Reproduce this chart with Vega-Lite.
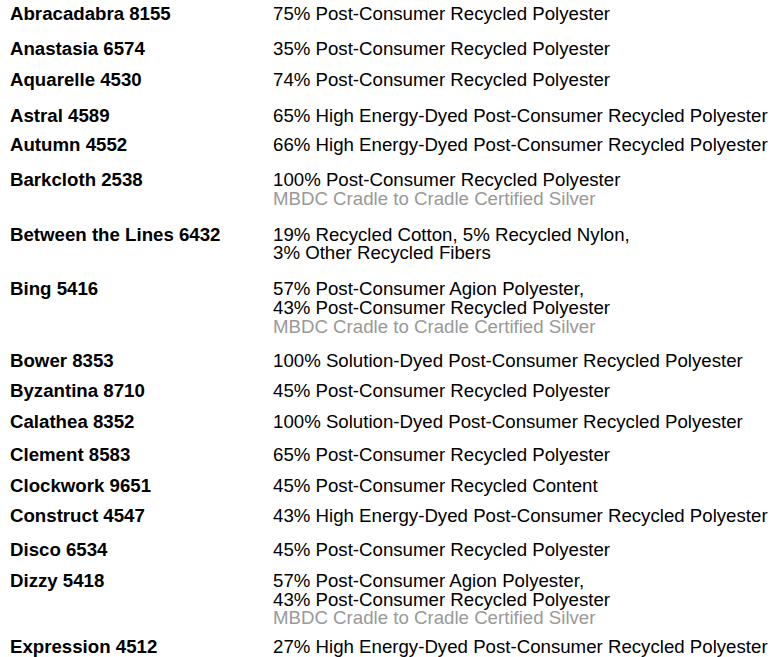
{
  "$schema": "https://vega.github.io/schema/vega-lite/v6.json",
  "width": 772,
  "height": 657,
  "autosize": {"type": "fit", "contains": "padding"},
  "padding": 0,
  "background": "#ffffff",
  "config": {"view": {"stroke": null}},
  "data": {
    "values": [
      {"col": "name", "line": 1.08, "tone": "main", "text": "Abracadabra 8155"},
      {"col": "fiber", "line": 1.08, "tone": "main", "text": "75% Post-Consumer Recycled Polyester"},
      {"col": "name", "line": 2.94, "tone": "main", "text": "Anastasia 6574"},
      {"col": "fiber", "line": 2.94, "tone": "main", "text": "35% Post-Consumer Recycled Polyester"},
      {"col": "name", "line": 4.57, "tone": "main", "text": "Aquarelle 4530"},
      {"col": "fiber", "line": 4.57, "tone": "main", "text": "74% Post-Consumer Recycled Polyester"},
      {"col": "name", "line": 6.49, "tone": "main", "text": "Astral 4589"},
      {"col": "fiber", "line": 6.49, "tone": "main", "text": "65% High Energy-Dyed Post-Consumer Recycled Polyester"},
      {"col": "name", "line": 8.05, "tone": "main", "text": "Autumn 4552"},
      {"col": "fiber", "line": 8.05, "tone": "main", "text": "66% High Energy-Dyed Post-Consumer Recycled Polyester"},
      {"col": "name", "line": 9.91, "tone": "main", "text": "Barkcloth 2538"},
      {"col": "fiber", "line": 9.91, "tone": "main", "text": "100% Post-Consumer Recycled Polyester"},
      {"col": "fiber", "line": 10.91, "tone": "cert", "text": "MBDC Cradle to Cradle Certified Silver"},
      {"col": "name", "line": 12.82, "tone": "main", "text": "Between the Lines 6432"},
      {"col": "fiber", "line": 12.82, "tone": "main", "text": "19% Recycled Cotton, 5% Recycled Nylon,"},
      {"col": "fiber", "line": 13.82, "tone": "main", "text": "3% Other Recycled Fibers"},
      {"col": "name", "line": 15.74, "tone": "main", "text": "Bing 5416"},
      {"col": "fiber", "line": 15.74, "tone": "main", "text": "57% Post-Consumer Agion Polyester,"},
      {"col": "fiber", "line": 16.74, "tone": "main", "text": "43% Post-Consumer Recycled Polyester"},
      {"col": "fiber", "line": 17.74, "tone": "cert", "text": "MBDC Cradle to Cradle Certified Silver"},
      {"col": "name", "line": 19.57, "tone": "main", "text": "Bower 8353"},
      {"col": "fiber", "line": 19.57, "tone": "main", "text": "100% Solution-Dyed Post-Consumer Recycled Polyester"},
      {"col": "name", "line": 21.16, "tone": "main", "text": "Byzantina 8710"},
      {"col": "fiber", "line": 21.16, "tone": "main", "text": "45% Post-Consumer Recycled Polyester"},
      {"col": "name", "line": 22.8, "tone": "main", "text": "Calathea 8352"},
      {"col": "fiber", "line": 22.8, "tone": "main", "text": "100% Solution-Dyed Post-Consumer Recycled Polyester"},
      {"col": "name", "line": 24.57, "tone": "main", "text": "Clement 8583"},
      {"col": "fiber", "line": 24.57, "tone": "main", "text": "65% Post-Consumer Recycled Polyester"},
      {"col": "name", "line": 26.19, "tone": "main", "text": "Clockwork 9651"},
      {"col": "fiber", "line": 26.19, "tone": "main", "text": "45% Post-Consumer Recycled Content"},
      {"col": "name", "line": 27.8, "tone": "main", "text": "Construct 4547"},
      {"col": "fiber", "line": 27.8, "tone": "main", "text": "43% High Energy-Dyed Post-Consumer Recycled Polyester"},
      {"col": "name", "line": 29.6, "tone": "main", "text": "Disco 6534"},
      {"col": "fiber", "line": 29.6, "tone": "main", "text": "45% Post-Consumer Recycled Polyester"},
      {"col": "name", "line": 31.27, "tone": "main", "text": "Dizzy 5418"},
      {"col": "fiber", "line": 31.27, "tone": "main", "text": "57% Post-Consumer Agion Polyester,"},
      {"col": "fiber", "line": 32.27, "tone": "main", "text": "43% Post-Consumer Recycled Polyester"},
      {"col": "fiber", "line": 33.27, "tone": "cert", "text": "MBDC Cradle to Cradle Certified Silver"},
      {"col": "name", "line": 34.8, "tone": "main", "text": "Expression 4512"},
      {"col": "fiber", "line": 34.8, "tone": "main", "text": "27% High Energy-Dyed Post-Consumer Recycled Polyester"}
    ]
  },
  "encoding": {
    "x": {"field": "col", "type": "ordinal", "sort": ["name", "fiber"], "axis": null,
          "scale": {"type": "point", "domain": ["name", "fiber"], "range": [10, 273], "padding": 0}},
    "y": {"field": "line", "type": "quantitative", "axis": null,
          "scale": {"domain": [0, 34.58], "reverse": true, "nice": false, "zero": false}},
    "text": {"field": "text", "type": "nominal"},
    "color": {"field": "tone", "type": "nominal", "legend": null,
              "scale": {"domain": ["main", "cert"], "range": ["#000000", "#999999"]}}
  },
  "layer": [
    {
      "transform": [{"filter": "datum.col === 'name'"}],
      "mark": {"type": "text", "align": "left", "baseline": "alphabetic", "font": "Liberation Sans", "fontSize": 18.67, "fontWeight": "bold", "clip": false}
    },
    {
      "transform": [{"filter": "datum.col === 'fiber'"}],
      "mark": {"type": "text", "align": "left", "baseline": "alphabetic", "font": "Liberation Sans", "fontSize": 18.67, "clip": false}
    }
  ]
}
